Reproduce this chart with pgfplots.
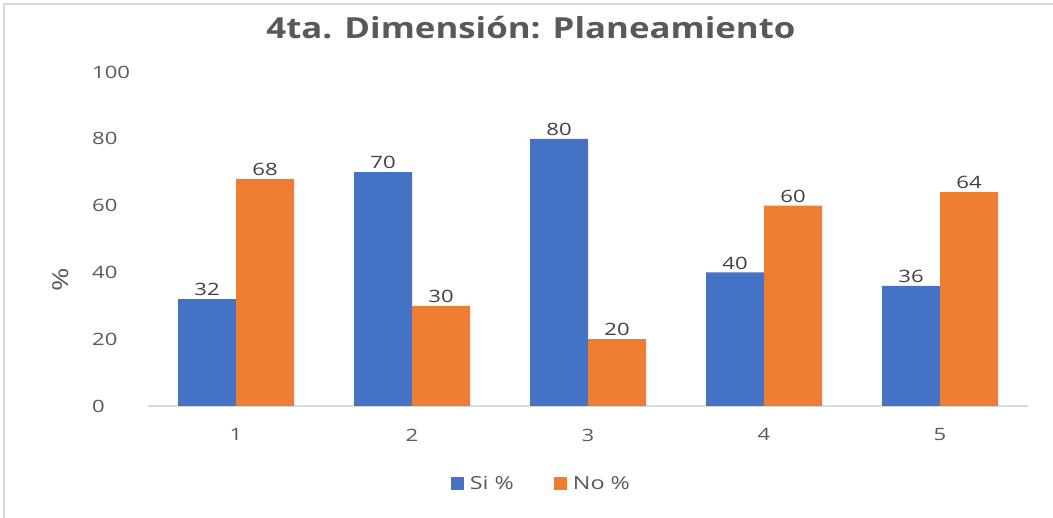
\documentclass[border=0pt]{standalone}
\usepackage{fontspec}
\usepackage{pgfplots}
\pgfplotsset{compat=1.18}
\setmainfont{Open Sans}
\newfontfamily\lblfont{Open Sans}[FakeStretch=1.3]
\newfontfamily\titlefont{Open Sans}[FakeStretch=1.2]
\definecolor{siblue}{HTML}{4472C4}
\definecolor{noorange}{HTML}{ED7D31}
\definecolor{txtgray}{HTML}{595959}
\definecolor{lblgray}{HTML}{404040}
\definecolor{axgray}{HTML}{D9D9D9}
\begin{document}
\begin{tikzpicture}[x=1pt,y=1pt]
\path[use as bounding box] (0,0) rectangle (1053,518);
\draw[axgray, line width=1.2pt] (4,0) -- (4,514) -- (1053,514);
\begin{axis}[
  at={(148pt,112pt)}, anchor=south west,
  scale only axis, width=880pt, height=334pt,
  ybar=0pt, bar width=58pt,
  xmin=0.5, xmax=5.5, ymin=0, ymax=100,
  enlargelimits=false,
  xtick={1,2,3,4,5}, ytick={0,20,40,60,80,100},
  separate axis lines,
  axis x line*=bottom, axis y line*=left,
  y axis line style={draw=none},
  x axis line style={draw=axgray, line width=1.2pt, -},
  tick style={draw=none},
  /pgf/number format/assume math mode=true,
  ticklabel style={font=\lblfont\fontsize{17}{20}\selectfont, text=txtgray},
  yticklabel style={anchor=west, inner sep=0pt, xshift=-56pt},
  xticklabel style={yshift=-15pt},
  nodes near coords,
  every node near coord/.append style={font=\lblfont\fontsize{17}{20}\selectfont, text=lblgray, inner sep=3pt},
  legend columns=2,
  legend style={draw=none, fill=none, at={(0.447,0)}, anchor=center, yshift=-78pt,
    font=\lblfont\fontsize{18}{20}\selectfont, text=txtgray,
    /tikz/every odd column/.append style={column sep=4pt},
    /tikz/every even column/.append style={column sep=38pt}},
  legend image code/.code={\fill[#1] (0pt,-6.5pt) rectangle (13pt,6.5pt);},
]
\addplot[fill=siblue, draw=none] coordinates {(1,32) (2,70) (3,80) (4,40) (5,36)};
\addplot[fill=noorange, draw=none] coordinates {(1,68) (2,30) (3,20) (4,60) (5,64)};
\legend{Si \%, No \%}
\end{axis}
\node[text=txtgray, font=\titlefont\bfseries\fontsize{29}{32}\selectfont] at (531,490) {4ta. Dimensión: Planeamiento};
\node[text=txtgray, rotate=90, font=\lblfont\fontsize{22}{24}\selectfont] at (61,238) {\%};
\end{tikzpicture}
\end{document}
